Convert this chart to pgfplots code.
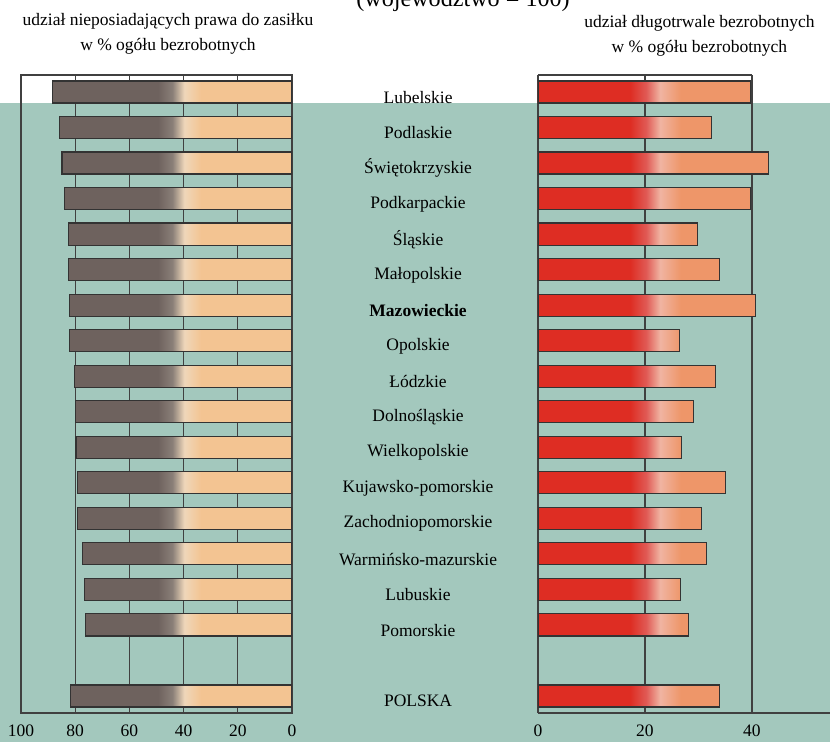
\documentclass[border=0pt]{standalone}
\usepackage{pgfplots}
\pgfplotsset{compat=1.18}
\usepackage{fontspec}
\setmainfont{Liberation Serif}

\definecolor{bgteal}{HTML}{A3C8BD}
\definecolor{brn}{HTML}{6E625E}
\definecolor{brnmid}{HTML}{8A7F78}
\definecolor{cream}{HTML}{EFD7BA}
\definecolor{peach}{HTML}{F3C492}
\definecolor{redbar}{HTML}{DE2D23}
\definecolor{redmid}{HTML}{E05A55}
\definecolor{pinkhi}{HTML}{F0B4A2}
\definecolor{salmon}{HTML}{EE9669}
\definecolor{gridc}{HTML}{404040}

% path box is mapped onto 25bp..75bp of the shading
\pgfdeclarehorizontalshading{leftbar}{100bp}{color(0bp)=(brn); color(47bp)=(brn);
  color(50bp)=(brnmid); color(52.5bp)=(cream); color(56bp)=(peach); color(100bp)=(peach)}
\pgfdeclarehorizontalshading{rightbar}{100bp}{color(0bp)=(redbar); color(45bp)=(redbar);
  color(48.5bp)=(redmid); color(51.5bp)=(pinkhi); color(56bp)=(salmon); color(100bp)=(salmon)}

\pgfplotsset{
  panel/.style={
    scale only axis, anchor=south west,
    height=364.6pt,
    ymin=-0.48, ymax=17.48,
    xmajorgrids,
    major grid style={gridc, line width=0.7pt},
    axis line style={gridc, line width=0.7pt},
    major tick length=0pt,
    /pgf/number format/assume math mode=true,
    tick label style={font=\fontsize{10}{12}\selectfont},
    xticklabel style={yshift=-3pt},
    bar width=0.62,
  },
  bars/.style={xbar, draw=black!80, line width=0.7pt, shade, shading=#1},
}

\begin{document}
\begin{tikzpicture}
\useasboundingbox (0,0) rectangle (474.3pt,424pt);
\fill[bgteal] (0,0) rectangle (474.3pt,365.1pt);

\node[anchor=base, font=\fontsize{13.8}{16}\selectfont] at (264.6pt,420pt) {(województwo = 100)};
\node[align=center, font=\fontsize{10}{14.3}\selectfont] at (96pt,404.5pt)
  {udział nieposiadających prawa do zasiłku\\w \% ogółu bezrobotnych};
\node[align=center, font=\fontsize{10}{14.3}\selectfont] at (399.7pt,403.5pt)
  {udział długotrwale bezrobotnych\\w \% ogółu bezrobotnych};

% lewy panel: bez prawa do zasilku
\begin{axis}[panel,
  at={(12pt,16.57pt)}, width=154.9pt,
  xmin=0, xmax=100, x dir=reverse,
  xtick={0,20,40,60,80,100}, ytick=\empty,
]
\addplot[bars=leftbar] coordinates {
  (88.3,17) (85.9,16) (84.9,15) (84.0,14) (82.5,13) (82.5,12)
  (82.1,11) (82.1,10) (80.3,9) (79.8,8) (79.7,7) (79.2,6)
  (79.2,5) (77.2,4) (76.6,3) (76.3,2) (81.7,0)
};
\end{axis}

% prawy panel: dlugotrwale bezrobotni
\begin{axis}[panel,
  at={(307.4pt,16.57pt)}, width=166.9pt,
  xmin=0, xmax=54.6,
  axis x line*=bottom, axis y line*=left,
  xtick={0,20,40},
  ytick={0,2,3,4,5,6,7,8,9,10,11,12,13,14,15,16,17},
  yticklabels={POLSKA, Pomorskie, Lubuskie, Warmińsko-mazurskie, Zachodniopomorskie,
    Kujawsko-pomorskie, Wielkopolskie, Dolnośląskie, Łódzkie, Opolskie,
    \textbf{Mazowieckie}, Małopolskie, Śląskie, Podkarpackie, Świętokrzyskie,
    Podlaskie, Lubelskie},
  yticklabel style={anchor=center, xshift=-68.5pt, yshift=-3pt},
]
\draw[gridc, line width=0.7pt] (axis cs:0,17.48) -- (axis cs:40,17.48);
\addplot[bars=rightbar] coordinates {
  (39.8,17) (32.5,16) (43.1,15) (39.8,14) (29.8,13) (33.9,12)
  (40.7,11) (26.4,10) (33.2,9) (29.1,8) (26.9,7) (35.1,6)
  (30.6,5) (31.5,4) (26.7,3) (28.2,2) (33.9,0)
};
\end{axis}
\end{tikzpicture}
\end{document}
